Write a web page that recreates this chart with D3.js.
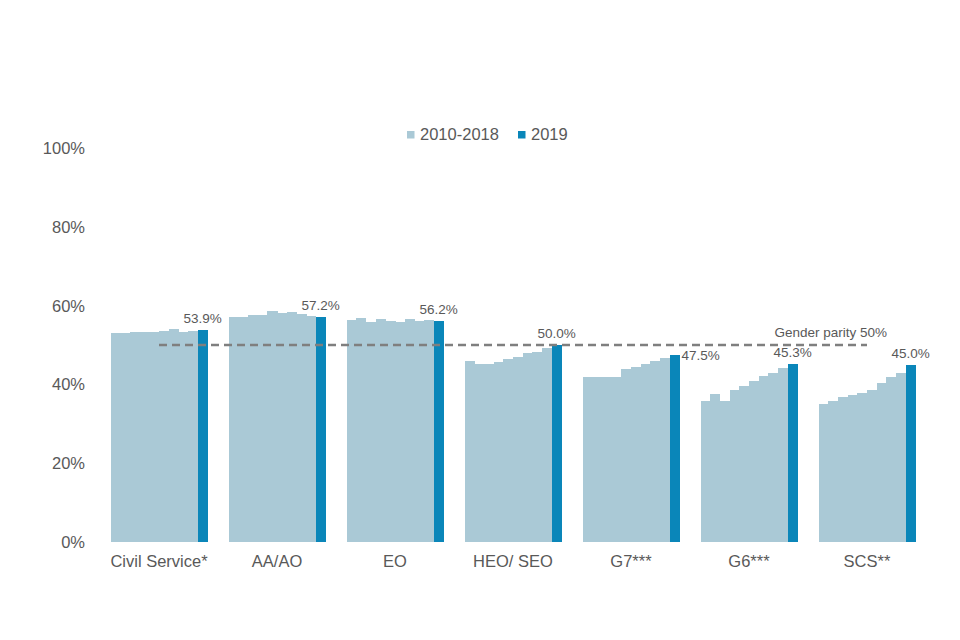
<!DOCTYPE html>
<html>
<head>
<meta charset="utf-8">
<script src="https://cdn.jsdelivr.net/npm/d3@7"></script>
<style>
  body { margin: 0; background: #fff; }
  text { font-family: "Liberation Sans", Arial, sans-serif; fill: #595959; }
</style>
</head>
<body>
<div id="chart"></div>
<script>
// grades and years
var grades = ["Civil Service*", "AA/AO", "EO", "HEO/ SEO", "G7***", "G6***", "SCS**"];
var years = ["2010", "2011", "2012", "2013", "2014", "2015", "2016", "2017", "2018", "2019"];

// % women, 2010-2018
var civilService = [53.0, 53.1, 53.2, 53.3, 53.4, 53.6, 54.0, 53.2, 53.6];
var aaAo        = [57.0, 57.1, 57.7, 57.5, 58.6, 58.2, 58.4, 57.9, 57.3];
var eo          = [56.3, 56.9, 55.8, 56.5, 56.1, 55.8, 56.5, 56.2, 56.3];
var heoSeo      = [46.0, 45.3, 45.3, 45.8, 46.4, 46.9, 47.9, 48.3, 49.2];
var g7          = [42.0, 42.0, 41.8, 41.8, 43.9, 44.5, 45.3, 46.0, 46.6];
var g6          = [35.8, 37.6, 35.8, 38.6, 39.6, 40.9, 42.2, 43.0, 44.1];
var scs         = [34.9, 35.8, 36.9, 37.3, 37.9, 38.6, 40.3, 41.8, 43.0];
// % women, 2019
var latest = [53.9, 57.2, 56.2, 50.0, 47.5, 45.3, 45.0];

var yTicks = [0, 20, 40, 60, 80, 100];
var parity = 50;

var pastSeries = [civilService, aaAo, eo, heoSeo, g7, g6, scs];
var data = [];
grades.forEach(function(g, i) {
  pastSeries[i].forEach(function(v, j) {
    data.push({grade: g, year: years[j], value: v, latest: false});
  });
  data.push({grade: g, year: "2019", value: latest[i], latest: true});
});

var lightBlue = "#aac9d6", darkBlue = "#0a86b9";

var svg = d3.select("#chart")
  .append("svg")
    .attr("width", 960)
    .attr("height", 640);

var x0 = d3.scaleBand()
  .domain(grades)
  .range([100, 926])
  .paddingInner(0.18)
  .paddingOuter(0.09);

var x1 = d3.scaleBand()
  .domain(years)
  .range([0, x0.bandwidth()]);

var y = d3.scaleLinear()
  .domain([0, 100])
  .range([542, 148]);

// Y axis (labels only)
svg.selectAll("text.ytick")
  .data(yTicks)
  .enter()
  .append("text")
    .attr("class", "ytick")
    .attr("x", 85)
    .attr("y", d => y(d) + 6)
    .attr("text-anchor", "end")
    .style("font-size", "16.5px")
    .text(d => d + "%");

// Bars
svg.selectAll("rect.bar")
  .data(data)
  .enter()
  .append("rect")
    .attr("class", "bar")
    .attr("x", d => x0(d.grade) + x1(d.year))
    .attr("y", d => y(d.value))
    .attr("width", x1.bandwidth() + 0.5)
    .attr("height", d => y(0) - y(d.value))
    .attr("fill", d => d.latest ? darkBlue : lightBlue)
    .attr("shape-rendering", "crispEdges");

// Category labels
svg.selectAll("text.cat")
  .data(grades)
  .enter()
  .append("text")
    .attr("class", "cat")
    .attr("x", d => x0(d) + x0.bandwidth() / 2)
    .attr("y", 567)
    .attr("text-anchor", "middle")
    .style("font-size", "16.5px")
    .text(d => d);

// Gender parity line
svg.append("line")
  .attr("x1", x0(grades[0]) + x0.bandwidth() / 2)
  .attr("x2", x0(grades[grades.length - 1]) + x0.bandwidth() / 2)
  .attr("y1", y(parity))
  .attr("y2", y(parity))
  .attr("stroke", "#7f7f7f")
  .attr("stroke-width", 2.5)
  .attr("stroke-dasharray", "8,5");

svg.append("text")
  .attr("x", x0(grades[grades.length - 1]) + x0.bandwidth() / 2 + 20)
  .attr("y", y(parity) - 8)
  .attr("text-anchor", "end")
  .style("font-size", "13.5px")
  .text("Gender parity " + parity + "%");

// 2019 value labels (G7 sits beside its bar)
svg.selectAll("text.values")
  .data(latest)
  .enter()
  .append("text")
    .attr("class", "values")
    .attr("x", (d, i) => grades[i] == "G7***"
      ? x0(grades[i]) + x1("2019") + x1.bandwidth() + 2
      : x0(grades[i]) + x1("2019") + x1.bandwidth() / 2)
    .attr("y", (d, i) => grades[i] == "G7***" ? y(d) + 5 : y(d) - 7)
    .attr("text-anchor", (d, i) => grades[i] == "G7***" ? "start" : "middle")
    .style("font-size", "13.5px")
    .text(d => d.toFixed(1) + "%");

// Legend
var legend = [{label: "2010-2018", color: lightBlue, x: 407}, {label: "2019", color: darkBlue, x: 518}];
var lg = svg.selectAll("g.legend")
  .data(legend)
  .enter()
  .append("g")
    .attr("class", "legend")
    .attr("transform", d => "translate(" + d.x + ",131)");
lg.append("rect")
  .attr("width", 7.5)
  .attr("height", 7.5)
  .attr("fill", d => d.color);
lg.append("text")
  .attr("x", 13)
  .attr("y", 9)
  .style("font-size", "16.5px")
  .text(d => d.label);
</script>
</body>
</html>
